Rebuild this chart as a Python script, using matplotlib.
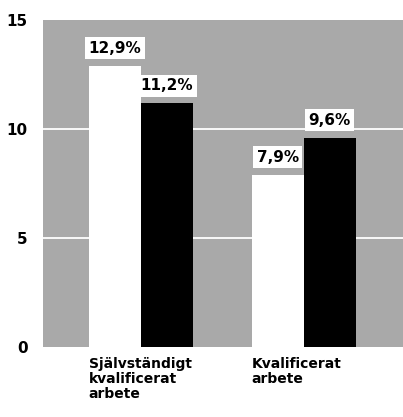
import numpy as np
import matplotlib.pyplot as plt

# Data
kategorier = ['Självständigt\nkvalificerat\narbete', 'Kvalificerat\narbete']
vita = [12.9, 7.9]
svarta = [11.2, 9.6]
etiketter_vita = ['12,9%', '7,9%']
etiketter_svarta = ['11,2%', '9,6%']
yticks = [0, 5, 10, 15]

fig = plt.figure(figsize=(4.03, 4.17), dpi=100)
ax = fig.add_axes([0.107, 0.168, 0.893, 0.784])

x = np.arange(len(kategorier))
w = 0.32

ax.set_facecolor('#a9a9a9')
for g in [5, 10]:
    ax.axhline(g, color='white', lw=1.3, zorder=1)

ax.bar(x - w/2, vita, w, color='white', zorder=2)
ax.bar(x + w/2, svarta, w, color='black', zorder=2)

box = dict(facecolor='white', edgecolor='none', pad=2.5)
for i in range(len(x)):
    ax.text(x[i] - w/2, vita[i] + 0.45, etiketter_vita[i], ha='center', va='bottom',
            fontsize=11, fontweight='bold', bbox=box, zorder=3)
    ax.text(x[i] + w/2, svarta[i] + 0.45, etiketter_svarta[i], ha='center', va='bottom',
            fontsize=11, fontweight='bold', bbox=box, zorder=3)

ax.set_xlim(-0.60, 1.61)
ax.set_ylim(0, 15)
ax.set_yticks(yticks)
ax.set_yticklabels([str(v) for v in yticks], fontsize=11, fontweight='bold')
ax.set_xticks(x - w)
ax.set_xticklabels(kategorier, ha='left', fontsize=10, fontweight='bold', linespacing=1.1)
ax.tick_params(length=0, pad=7)
ax.tick_params(axis='y', pad=11)
for s in ax.spines.values():
    s.set_visible(False)

fig.savefig('out.png', dpi=100)
